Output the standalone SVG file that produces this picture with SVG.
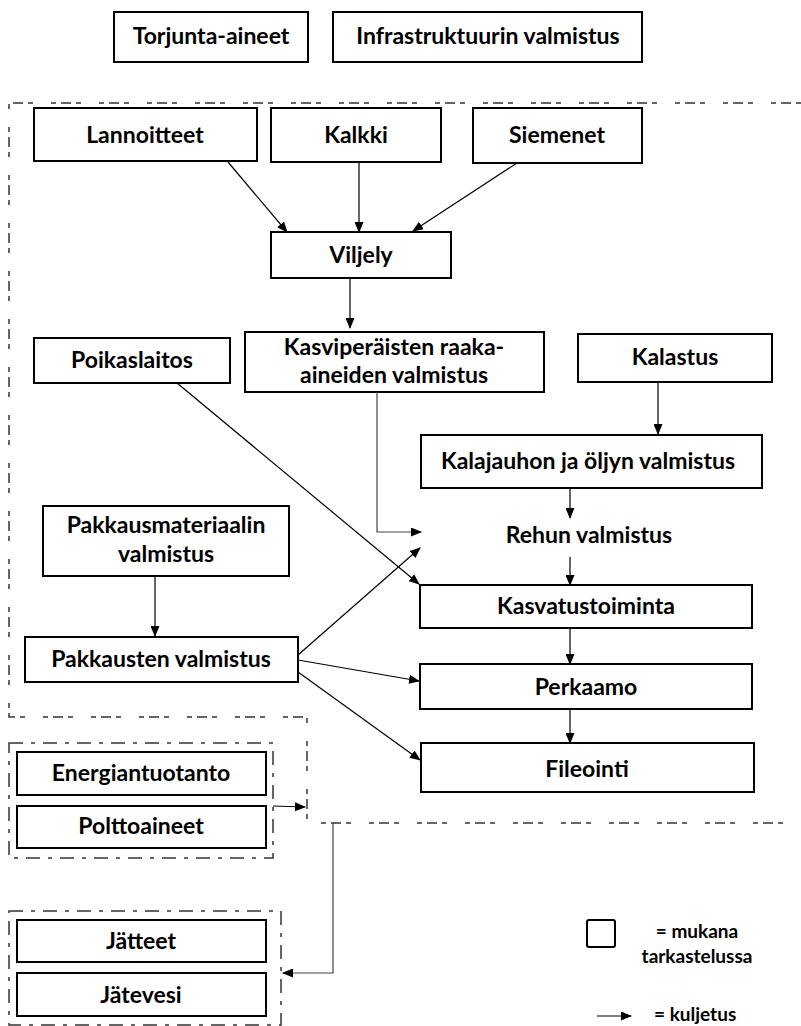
<svg xmlns="http://www.w3.org/2000/svg" width="801" height="1026" viewBox="0 0 801 1026">
<style>
.box{fill:#fff;stroke:#000;stroke-width:2}
.t{font-family:Lato,"Liberation Sans",sans-serif;font-weight:bold;font-size:23px;fill:#000;text-anchor:middle}
.lg{font-family:Lato,"Liberation Sans",sans-serif;font-weight:bold;font-size:19px;fill:#000;text-anchor:middle}
.c{fill:none;stroke:#000;stroke-width:1.2}
.c2{fill:none;stroke:#444;stroke-width:1.2}
.b1{fill:none;stroke:#333;stroke-width:1.5;stroke-dasharray:5 5 10 5 5 18}
.b2{fill:none;stroke:#333;stroke-width:1.5;stroke-dasharray:14 8 4 8}
</style>
<defs>
<marker id="ah" markerUnits="userSpaceOnUse" markerWidth="11" markerHeight="9" refX="10" refY="4.5" orient="auto"><path d="M0,0 L11,4.5 L0,9 z" fill="#000"/></marker>
</defs>
<rect width="801" height="1026" fill="#fff"/>
<g id="boundaries">
<path class="b1" d="M801 103 H9 V717 H307 V823 H801"/>
<rect class="b2" x="9" y="743" width="264" height="115"/>
<rect class="b2" x="9" y="911" width="272" height="114"/>
</g>
<g id="n-torjunta"><rect class="box" x="114" y="12" width="194" height="50"/><text class="t" x="211" y="44">Torjunta-aineet</text></g>
<g id="n-infra"><rect class="box" x="333" y="12" width="309" height="50"/><text class="t" x="488" y="44">Infrastruktuurin valmistus</text></g>
<g id="n-lannoitteet"><rect class="box" x="34" y="108" width="223" height="53"/><text class="t" x="145" y="143">Lannoitteet</text></g>
<g id="n-kalkki"><rect class="box" x="271" y="108" width="170" height="54"/><text class="t" x="356" y="143">Kalkki</text></g>
<g id="n-siemenet"><rect class="box" x="473" y="108" width="169" height="55"/><text class="t" x="557" y="143">Siemenet</text></g>
<g id="n-viljely"><rect class="box" x="271" y="232" width="180" height="46"/><text class="t" x="361" y="263">Viljely</text></g>
<g id="n-kasvi"><rect class="box" x="245" y="332" width="299" height="60"/><text class="t" x="394" y="355">Kasviperäisten raaka-</text><text class="t" x="394" y="383">aineiden valmistus</text></g>
<g id="n-poikas"><rect class="box" x="34" y="338" width="196" height="45"/><text class="t" x="132" y="368">Poikaslaitos</text></g>
<g id="n-kalastus"><rect class="box" x="578" y="334" width="194" height="48"/><text class="t" x="675" y="365">Kalastus</text></g>
<g id="n-kalajauhon"><rect class="box" x="421" y="435" width="341" height="53"/><text class="t" x="588" y="469">Kalajauhon ja öljyn valmistus</text></g>
<g id="n-rehun"><text class="t" x="589" y="543">Rehun valmistus</text></g>
<g id="n-kasvatus"><rect class="box" x="420" y="585" width="332" height="43"/><text class="t" x="586" y="614">Kasvatustoiminta</text></g>
<g id="n-pakkmat"><rect class="box" x="43" y="506" width="246" height="70"/><text class="t" x="166" y="533">Pakkausmateriaalin</text><text class="t" x="166" y="562">valmistus</text></g>
<g id="n-pakkausten"><rect class="box" x="25" y="637" width="273" height="45"/><text class="t" x="161" y="667">Pakkausten valmistus</text></g>
<g id="n-perkaamo"><rect class="box" x="420" y="664" width="332" height="45"/><text class="t" x="586" y="695">Perkaamo</text></g>
<g id="n-fileointi"><rect class="box" x="421" y="743" width="333" height="49"/><text class="t" x="587" y="777">Fileointi</text></g>
<g id="n-energia"><rect class="box" x="17" y="752" width="249" height="43"/><text class="t" x="141" y="781">Energiantuotanto</text></g>
<g id="n-poltto"><rect class="box" x="17" y="806" width="249" height="42"/><text class="t" x="141" y="834">Polttoaineet</text></g>
<g id="n-jatteet"><rect class="box" x="17" y="920" width="249" height="42"/><text class="t" x="141" y="949">Jätteet</text></g>
<g id="n-jatevesi"><rect class="box" x="17" y="973" width="249" height="43"/><text class="t" x="141" y="1003">Jätevesi</text></g>
<g id="legend">
<rect x="587" y="920" width="28" height="27" rx="2" fill="#fff" stroke="#000" stroke-width="2"/>
<text class="lg" x="697" y="938">= mukana</text>
<text class="lg" x="697" y="963">tarkastelussa</text>
<line class="c" x1="597" y1="1016" x2="631" y2="1016" marker-end="url(#ah)"/>
<text class="lg" x="654" y="1021" style="text-anchor:start">= kuljetus</text>
</g>
<g id="connectors">
<line class="c" x1="228" y1="162" x2="287" y2="232" marker-end="url(#ah)"/>
<line class="c" x1="359" y1="162" x2="359" y2="232" marker-end="url(#ah)"/>
<line class="c" x1="517" y1="163" x2="413" y2="231" marker-end="url(#ah)"/>
<line class="c" x1="350" y1="278" x2="350" y2="328" marker-end="url(#ah)"/>
<line class="c" x1="658" y1="382" x2="658" y2="434" marker-end="url(#ah)"/>
<line class="c" x1="570" y1="488" x2="570" y2="518" marker-end="url(#ah)"/>
<line class="c" x1="570" y1="557" x2="570" y2="585" marker-end="url(#ah)"/>
<path class="c2" d="M377 392 V532 H421" marker-end="url(#ah)"/>
<line class="c" x1="177" y1="383" x2="419" y2="584" marker-end="url(#ah)"/>
<line class="c" x1="155" y1="576" x2="155" y2="636" marker-end="url(#ah)"/>
<line class="c" x1="298" y1="655" x2="420" y2="548" marker-end="url(#ah)"/>
<line class="c" x1="298" y1="660" x2="419" y2="681" marker-end="url(#ah)"/>
<line class="c" x1="298" y1="672" x2="420" y2="760" marker-end="url(#ah)"/>
<line class="c" x1="570" y1="628" x2="570" y2="664" marker-end="url(#ah)"/>
<line class="c" x1="570" y1="709" x2="570" y2="743" marker-end="url(#ah)"/>
<path class="c" d="M273 806 L305 807" marker-end="url(#ah)"/>
<path class="c2" d="M333 823 V973 H283" marker-end="url(#ah)"/>
</g>
</svg>
